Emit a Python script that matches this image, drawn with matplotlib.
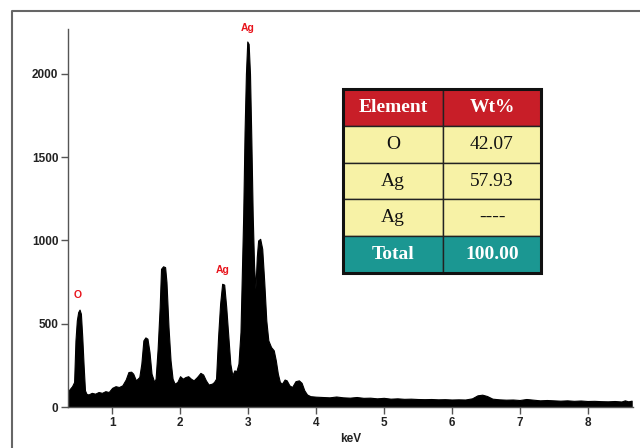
import matplotlib
matplotlib.use("Agg")
import matplotlib.pyplot as plt
from matplotlib.patches import Rectangle
from matplotlib.lines import Line2D

# ---- spectrum data ----
energy_kev = [
    0.35, 0.38, 0.41, 0.44, 0.46, 0.48, 0.50, 0.52, 0.54, 0.56, 0.58, 0.60,
    0.62, 0.65, 0.70, 0.75, 0.80, 0.85, 0.90, 0.95, 1.00, 1.05, 1.10, 1.15,
    1.20, 1.24, 1.28, 1.31, 1.35, 1.40, 1.43, 1.46, 1.49, 1.52, 1.55, 1.58,
    1.62, 1.64, 1.67, 1.70, 1.72, 1.75, 1.78, 1.80, 1.83, 1.86, 1.89, 1.92,
    1.96, 2.00, 2.04, 2.08, 2.12, 2.16, 2.20, 2.25, 2.30, 2.34, 2.38, 2.42,
    2.47, 2.50, 2.53, 2.56, 2.59, 2.62, 2.65, 2.68, 2.71, 2.74, 2.77, 2.80,
    2.83, 2.86, 2.89, 2.91, 2.93, 2.95, 2.97, 2.99, 3.01, 3.03, 3.05, 3.07,
    3.09, 3.11, 3.13, 3.15, 3.18, 3.21, 3.24, 3.27, 3.30, 3.34, 3.38, 3.41,
    3.44, 3.47, 3.50, 3.54, 3.57, 3.61, 3.65, 3.70, 3.75, 3.79, 3.83, 3.87,
    3.92, 4.00, 4.10, 4.20, 4.30, 4.40, 4.50, 4.60, 4.70, 4.80, 4.90, 5.00,
    5.10, 5.20, 5.30, 5.40, 5.50, 5.60, 5.70, 5.80, 5.90, 6.00, 6.10, 6.20,
    6.30, 6.38, 6.45, 6.52, 6.60, 6.70, 6.80, 6.90, 7.00, 7.10, 7.20, 7.30,
    7.40, 7.50, 7.60, 7.70, 7.80, 7.90, 8.00, 8.10, 8.20, 8.30, 8.40, 8.50,
    8.55, 8.60, 8.65,
]
counts = [
    95, 110, 125, 150, 400, 520, 570, 585, 560, 420, 250, 100,
    80, 75, 85, 80, 90, 85, 95, 90, 115, 125, 120, 130,
    165, 210, 212, 200, 160, 180, 260, 400, 418, 410, 330, 200,
    150, 170, 350, 600, 830, 845, 840, 750, 480, 280, 170, 140,
    150, 185, 170, 180, 185, 170, 160, 180, 205, 195, 160, 135,
    140, 150, 170, 420, 620, 740, 735, 600, 430, 260, 190, 220,
    215, 260, 450, 800, 1150, 1650, 2000, 2195, 2180, 2000, 1600, 1150,
    850, 710, 900, 1000, 1010, 950, 750, 520, 400, 360, 340, 280,
    200, 150, 140, 165, 160, 130, 120, 155, 160, 145, 100, 75,
    65, 62, 60, 58, 63, 58, 56, 60, 55, 56, 52, 55,
    50, 52, 49, 50, 48, 47, 48, 46, 47, 45, 46, 45,
    52, 70, 74, 66, 50, 46, 44, 45, 42, 48, 44, 40,
    42, 40, 38, 40, 37, 39, 36, 37, 35, 34, 36, 33,
    40, 34, 38,
]

peak_labels = ["O", "Ag", "Ag"]
peak_label_x = [0.49, 2.63, 3.00]
peak_label_y = [640, 790, 2245]

x_ticks = [1, 2, 3, 4, 5, 6, 7, 8]
y_ticks = [0, 500, 1000, 1500, 2000]

# ---- table data ----
table_header = ["Element", "Wt%"]
table_elements = ["O", "Ag", "Ag"]
table_wt = ["42.07", "57.93", "----"]
table_total = ["Total", "100.00"]

W, H = 640, 448
fig = plt.figure(figsize=(W / 100, H / 100), dpi=100)
fig.patch.set_facecolor("white")

ax = fig.add_axes([68 / W, 1 - 407 / H, (633 - 68) / W, (407 - 29) / H])
ax.fill_between(energy_kev, counts, 0, color="black", linewidth=0.8,
                edgecolor="black")
ax.set_xlim(0.35, 8.67)
ax.set_ylim(0, 2270)
ax.set_xticks(x_ticks)
ax.set_yticks(y_ticks)
for s in ["top", "right"]:
    ax.spines[s].set_visible(False)
for s in ["left", "bottom"]:
    ax.spines[s].set_color("#555555")
    ax.spines[s].set_linewidth(1.0)
ax.tick_params(axis="both", direction="out", length=5, width=1.0,
               color="#555555", pad=2)
for lab in ax.get_xticklabels() + ax.get_yticklabels():
    lab.set_fontfamily("Liberation Sans")
    lab.set_fontweight("bold")
    lab.set_fontsize(8.5)
    lab.set_color("#222222")
ax.set_xlabel("keV", fontfamily="Liberation Sans", fontweight="bold",
              fontsize=8.5, color="#222222", labelpad=3)

for t, x, y in zip(peak_labels, peak_label_x, peak_label_y):
    ax.text(x, y, t, color="#e8141c", fontsize=7.5, fontweight="bold",
            fontfamily="Liberation Sans", ha="center", va="bottom")

# ---- frame around the picture ----
fx = 12 / W
fy = 1 - 11 / H
fig.add_artist(Line2D([fx, fx, 1.0], [0.0, fy, fy], color="#666666",
                      linewidth=1.5, transform=fig.transFigure))

# ---- table overlay ----
tx0, tx1 = 343, 541
ty0, ty1 = 89, 273
tax = fig.add_axes([tx0 / W, 1 - ty1 / H, (tx1 - tx0) / W, (ty1 - ty0) / H])
tax.set_xlim(0, 1)
tax.set_ylim(0, 5)
tax.axis("off")
col_split = (443 - tx0) / (tx1 - tx0)

rows = [table_header] + [[e, w] for e, w in zip(table_elements, table_wt)] + [table_total]
red, yellow, teal = "#c81e28", "#f7f2a6", "#1b9792"
for i, row in enumerate(rows):
    ytop = 5 - i
    if i == 0:
        fc, tc, fw = red, "white", "bold"
    elif i == len(rows) - 1:
        fc, tc, fw = teal, "white", "bold"
    else:
        fc, tc, fw = yellow, "#111111", "normal"
    for j, txt in enumerate(row):
        x0 = 0 if j == 0 else col_split
        x1 = col_split if j == 0 else 1
        tax.add_patch(Rectangle((x0, ytop - 1), x1 - x0, 1, facecolor=fc,
                                edgecolor="#222222", linewidth=1.0))
        tax.text((x0 + x1) / 2, ytop - 0.5, txt, ha="center", va="center",
                 fontsize=14, fontweight=fw, color=tc,
                 fontfamily="Liberation Serif")
tax.add_patch(Rectangle((0, 0), 1, 5, facecolor="none", edgecolor="#111111",
                        linewidth=2.2, clip_on=False))

fig.savefig("out.png", dpi=100)
